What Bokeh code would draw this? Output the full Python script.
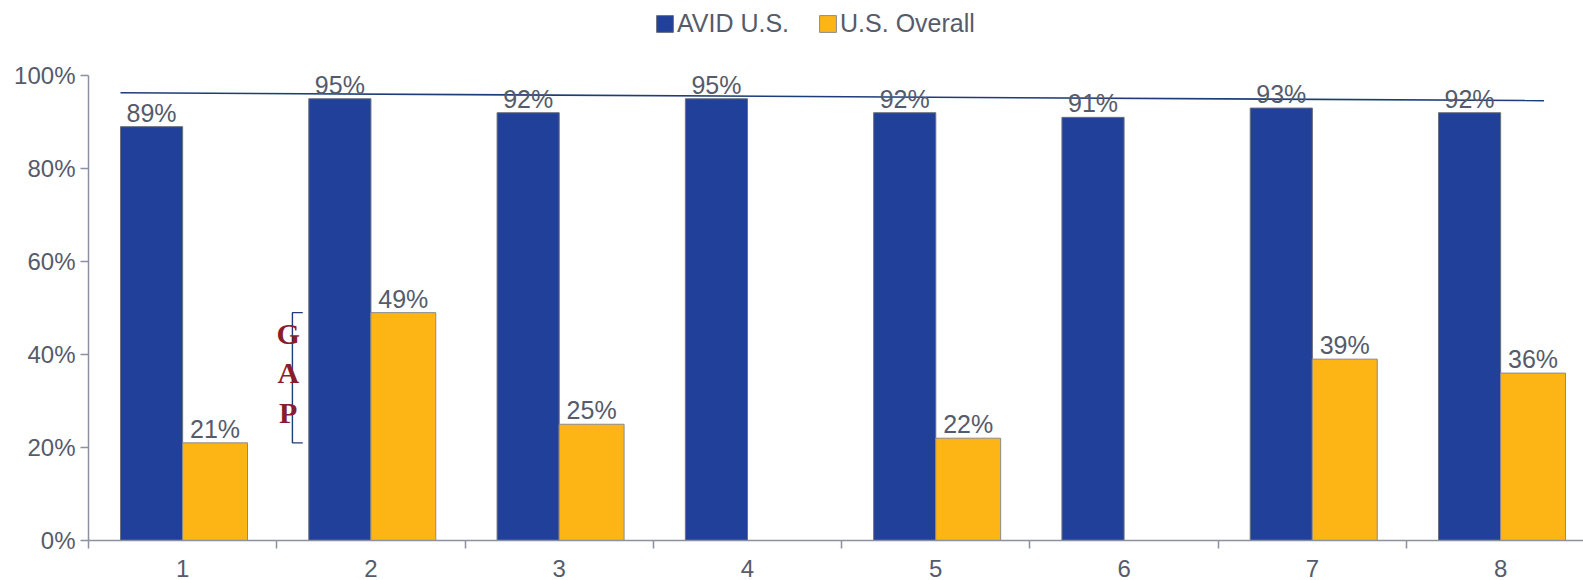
from bokeh.plotting import figure
from bokeh.models import (ColumnDataSource, FixedTicker, NumeralTickFormatter, Legend,
                          LegendItem, LabelSet, Range1d)
from bokeh.transform import dodge
from bokeh.core.properties import value
from bokeh.embed import file_html
from bokeh.resources import INLINE

categories = [1, 2, 3, 4, 5, 6, 7, 8]
avid_us = [0.89, 0.95, 0.92, 0.95, 0.92, 0.91, 0.93, 0.92]
us_overall = [0.21, 0.49, 0.25, None, 0.22, None, 0.39, 0.36]
series_names = ["AVID U.S.", "U.S. Overall"]
y_ticks = [0, 0.2, 0.4, 0.6, 0.8, 1.0]
trend_x = [0.67, 8.23]
trend_y = [0.963, 0.946]
gap_letters = ["G", "A", "P"]

BLUE = "#21409a"
ORANGE = "#fdb515"
NAVY = "#1e3c78"
GRAY_TEXT = "#555b6b"
AXIS_GRAY = "#8c90a0"
FONT = "Liberation Sans"

avid_src = ColumnDataSource(dict(
    x=categories, y=avid_us, lbl=[f"{round(v*100)}%" for v in avid_us]))
ov_x = [c for c, v in zip(categories, us_overall) if v is not None]
ov_y = [v for v in us_overall if v is not None]
ov_src = ColumnDataSource(dict(x=ov_x, y=ov_y, lbl=[f"{round(v*100)}%" for v in ov_y]))

p = figure(width=1583, height=580, output_backend="svg", toolbar_location=None,
           x_range=Range1d(0.5, 8.44), y_range=Range1d(0, 1.1613),
           min_border_left=88, min_border_right=0, min_border_top=0, min_border_bottom=40)
p.outline_line_color = None
p.xgrid.visible = False
p.ygrid.visible = False

r1 = p.vbar(x=dodge("x", -0.165, range=p.x_range), top="y", width=0.33, source=avid_src,
            fill_color=BLUE, line_color="#6a6f80", line_width=1)
r2 = p.vbar(x=dodge("x", 0.172, range=p.x_range), top="y", width=0.345, source=ov_src,
            fill_color=ORANGE, line_color="#8a8a8a", line_width=1)

for src, off in ((avid_src, -0.165), (ov_src, 0.172)):
    ls = LabelSet(x=dodge("x", off, range=p.x_range), y="y", text="lbl", source=src,
                  text_align="center", text_baseline="bottom", y_offset=0,
                  text_font=value(FONT), text_font_size="25px", text_color=GRAY_TEXT)
    p.add_layout(ls)

# reference line across the top
p.line(trend_x, trend_y, line_color=NAVY, line_width=1.6)

# GAP bracket between lowest and highest U.S. overall values of first two groups
gap_top = us_overall[1]
gap_bot = us_overall[0]
bx = 1.583
tick = 0.055
p.multi_line(xs=[[bx + tick, bx, bx, bx + tick]], ys=[[gap_top, gap_top, gap_bot, gap_bot]],
             line_color=NAVY, line_width=1.4)
span = gap_top - gap_bot
p.text(x=[bx - 0.022] * 3,
       y=[gap_top - span * f for f in (0.16, 0.46, 0.77)],
       text=gap_letters, text_align="center", text_baseline="middle",
       text_font=value("Liberation Serif"), text_font_style="bold",
       text_font_size="30px", text_color="#8b1c2c")

# axes
p.yaxis.ticker = FixedTicker(ticks=y_ticks)
p.yaxis.bounds = (0, 1)
p.yaxis.formatter = NumeralTickFormatter(format="0%")
p.yaxis.axis_line_color = AXIS_GRAY
p.yaxis.axis_line_width = 1.5
p.yaxis.major_tick_line_color = AXIS_GRAY
p.yaxis.major_tick_line_width = 1.5
p.yaxis.major_tick_out = 8
p.yaxis.major_tick_in = 0
p.yaxis.minor_tick_line_color = None
p.yaxis.major_label_standoff = 5
p.yaxis.major_label_text_font = FONT
p.yaxis.major_label_text_font_size = "24px"
p.yaxis.major_label_text_color = GRAY_TEXT

p.xaxis.ticker = FixedTicker(ticks=categories, minor_ticks=[c - 0.5 for c in categories] + [8.5])
p.xaxis.axis_line_color = AXIS_GRAY
p.xaxis.axis_line_width = 1.5
p.xaxis.major_tick_out = 0
p.xaxis.major_tick_in = 0
p.xaxis.minor_tick_line_color = AXIS_GRAY
p.xaxis.minor_tick_line_width = 1.5
p.xaxis.minor_tick_out = 8
p.xaxis.minor_tick_in = 0
p.xaxis.major_label_standoff = 11
p.xaxis.major_label_text_font = FONT
p.xaxis.major_label_text_font_size = "24px"
p.xaxis.major_label_text_color = GRAY_TEXT

legend = Legend(items=[LegendItem(label=series_names[0], renderers=[r1]),
                       LegendItem(label=series_names[1], renderers=[r2])],
                orientation="horizontal", location=(566, 502),
                glyph_width=21, glyph_height=21, label_standoff=2, spacing=28,
                label_text_font=FONT, label_text_font_size="25px",
                label_text_color=GRAY_TEXT, border_line_color=None,
                background_fill_alpha=0, margin=0, padding=4)
p.add_layout(legend)

open("out.html", "w").write(file_html(p, INLINE))
